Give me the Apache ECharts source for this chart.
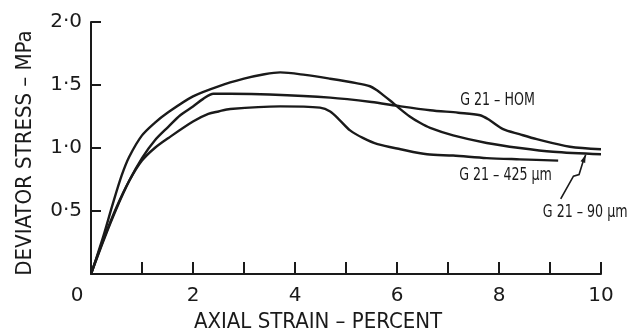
<!DOCTYPE html>
<html><head><meta charset="utf-8">
<script src="https://cdn.jsdelivr.net/npm/echarts@6/dist/echarts.min.js"></script>
<style>html,body{margin:0;padding:0;background:#fff}#c{width:627px;height:334px}</style>
</head><body><div id="c"></div>
<script>
// ---- data (strain %, deviator stress MPa) ----
const xTickLabels = ['0', '2', '4', '6', '8', '10'];
const yTickLabels = ['0·5', '1·0', '1·5', '2·0'];
const seriesNames = ['G 21 – HOM', 'G 21 – 425 µm', 'G 21 – 90 µm'];

const g90 = [[0,0],[0.1,0.12],[0.25,0.31],[0.43,0.56],[0.6,0.78],[0.75,0.93],[1.0,1.1],[1.25,1.2],[1.5,1.28],[2.0,1.41],[2.5,1.49],[3.0,1.55],[3.4,1.585],[3.71,1.6],[4.2,1.58],[4.69,1.55],[5.2,1.515],[5.47,1.49],[5.6,1.46],[5.73,1.42],[5.87,1.375],[6.0,1.33],[6.25,1.25],[6.45,1.2],[6.65,1.16],[7.1,1.1],[7.76,1.04],[8.41,1.0],[9.06,0.97],[10.0,0.95]];
const gHom = [[0,0],[0.25,0.27],[0.5,0.52],[0.75,0.74],[1.0,0.92],[1.25,1.06],[1.52,1.17],[1.75,1.26],[2.0,1.33],[2.2,1.39],[2.4,1.43],[2.73,1.43],[3.5,1.425],[4.69,1.40],[5.5,1.365],[6.0,1.335],[6.65,1.30],[7.2,1.28],[7.63,1.26],[7.82,1.22],[8.08,1.15],[8.4,1.11],[8.74,1.07],[9.39,1.01],[10.0,0.99]];
const g425 = [[0,0],[0.25,0.28],[0.5,0.53],[0.75,0.74],[1.0,0.9],[1.25,1.0],[1.52,1.08],[2.0,1.21],[2.3,1.27],[2.5,1.29],[2.73,1.31],[3.71,1.33],[4.49,1.32],[4.69,1.29],[4.88,1.22],[5.08,1.14],[5.33,1.08],[5.62,1.03],[6.07,0.99],[6.59,0.95],[7.1,0.94],[7.76,0.92],[8.41,0.91],[9.16,0.90]];

// annotation anchors (data coords)
const labelAnchors = [[7.24, 1.38], [7.22, 0.786], [8.86, 0.49]];
const pointerPath = [[9.21,0.597],[9.46,0.776],[9.57,0.789],[9.65,0.894],[9.70,0.947]];

const FONT = '"DejaVu Sans", sans-serif';
const CFONT = '"DejaVu Sans Condensed", "DejaVu Sans", sans-serif';
const INK = '#1a1a1a';

const chart = echarts.init(document.getElementById('c'), null, {renderer: 'canvas'});
function mkSeries(name, data) {
  return {name, type: 'line', data, symbol: 'none', smooth: 0.3,
    lineStyle: {color: INK, width: 2.4}, z: 3};
}
chart.setOption({
  animation: false,
  backgroundColor: '#fff',
  grid: {left: 91, right: 26, top: 22, bottom: 60},
  xAxis: {
    type: 'value', min: 0, max: 10, interval: 1,
    axisLine: {lineStyle: {color: INK, width: 2}},
    axisTick: {inside: true, length: 12, lineStyle: {color: INK, width: 2}},
    splitLine: {show: false},
    axisLabel: {
      margin: 12, color: INK, fontFamily: FONT, fontSize: 20,
      formatter: v => {
        if (v === 0) return '{z|' + xTickLabels[0] + '}';
        return (v % 2 === 0) ? xTickLabels[v / 2] : '';
      },
      rich: {z: {fontFamily: FONT, fontSize: 20, color: INK, padding: [0, 28, 0, 0]}}
    }
  },
  yAxis: {
    type: 'value', min: 0, max: 2, interval: 0.5,
    axisLine: {lineStyle: {color: INK, width: 2}},
    axisTick: {inside: true, length: 10, lineStyle: {color: INK, width: 2}},
    splitLine: {show: false},
    axisLabel: {
      margin: 9, color: INK, fontFamily: FONT, fontSize: 20,
      formatter: v => v === 0 ? '' : yTickLabels[Math.round(v / 0.5) - 1]
    }
  },
  series: [mkSeries(seriesNames[0], gHom), mkSeries(seriesNames[1], g425), mkSeries(seriesNames[2], g90)]
});

// annotations positioned through the chart's own coordinate system
const px = p => chart.convertToPixel({gridIndex: 0}, p);
const graphics = [];
graphics.push({type: 'text', x: 318, y: 322, style: {text: 'AXIAL STRAIN – PERCENT', x: 0, y: 0,
  align: 'center', verticalAlign: 'middle', font: '22px ' + CFONT, fill: INK}});
graphics.push({type: 'text', x: 25, y: 153, rotation: Math.PI / 2, style: {text: 'DEVIATOR STRESS – MPa',
  x: 0, y: 0, align: 'center', verticalAlign: 'middle', font: '22px ' + CFONT, fill: INK}});
labelAnchors.forEach((a, i) => {
  const p = px(a);
  graphics.push({type: 'text', x: p[0], y: p[1], scaleX: 0.78, style: {text: seriesNames[i], x: 0, y: 0, align: 'left',
    verticalAlign: 'middle', font: '18px ' + CFONT, fill: INK}});
});
const pts = pointerPath.map(px);
graphics.push({type: 'polyline', shape: {points: pts}, style: {stroke: INK, lineWidth: 1.6, fill: null}});
const tip = pts[pts.length - 1], prev = pts[pts.length - 2];
const dx = tip[0] - prev[0], dy = tip[1] - prev[1], L = Math.hypot(dx, dy);
const ux = dx / L, uy = dy / L, hl = 8, hw = 2.5;
graphics.push({type: 'polygon', shape: {points: [tip,
  [tip[0] - ux * hl - uy * hw, tip[1] - uy * hl + ux * hw],
  [tip[0] - ux * hl + uy * hw, tip[1] - uy * hl - ux * hw]]}, style: {fill: INK}});
chart.setOption({graphic: graphics});
</script>
</body></html>
